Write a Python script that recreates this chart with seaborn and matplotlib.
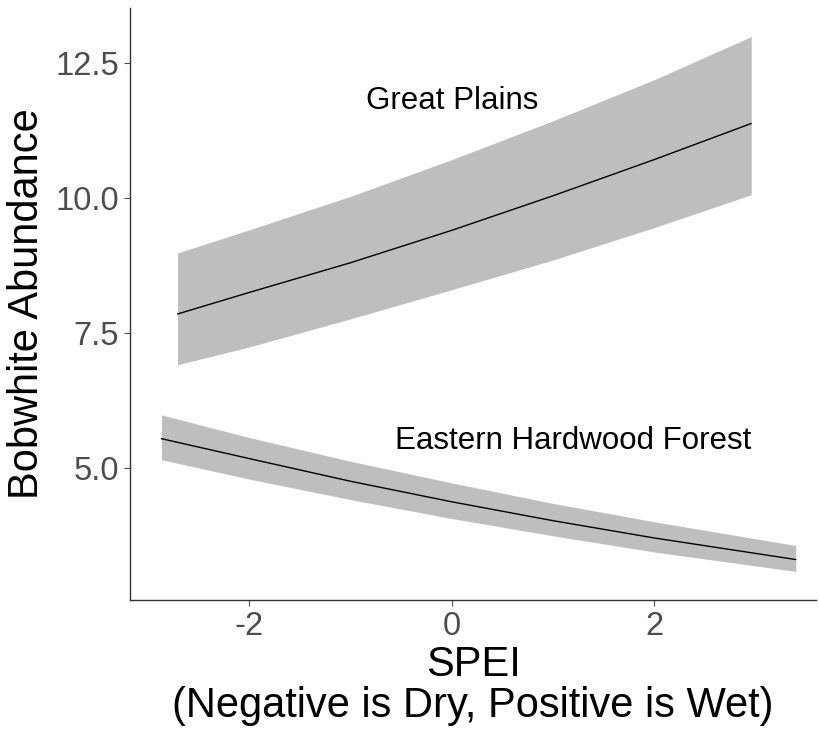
import matplotlib
matplotlib.use("Agg")
import matplotlib.pyplot as plt
import seaborn as sns
import pandas as pd

# Great Plains fitted curve and 95% band
gp_spei = [-2.71, -2.0, -1.0, 0.0, 1.0, 2.0, 2.96]
gp_fit = [7.85, 8.25, 8.80, 9.40, 10.04, 10.71, 11.38]
gp_lower = [6.91, 7.24, 7.76, 8.30, 8.85, 9.45, 10.06]
gp_upper = [8.98, 9.41, 10.03, 10.71, 11.43, 12.19, 12.99]

# Eastern Hardwood Forest fitted curve and 95% band
ehf_spei = [-2.87, -2.0, -1.0, 0.0, 1.0, 2.0, 3.40]
ehf_fit = [5.54, 5.17, 4.75, 4.37, 4.02, 3.70, 3.30]
ehf_lower = [5.15, 4.79, 4.41, 4.06, 3.74, 3.44, 3.08]
ehf_upper = [5.98, 5.56, 5.12, 4.72, 4.34, 4.00, 3.56]

x_ticks = [-2, 0, 2]
y_ticks = [5.0, 7.5, 10.0, 12.5]

RIBBON = "#BEBEBE"
TICK_GREY = "#4D4D4D"

sns.set_theme(style="ticks")
plt.rcParams['font.family'] = ['Liberation Sans', 'DejaVu Sans']

df = pd.concat([
    pd.DataFrame({'SPEI': gp_spei, 'fit': gp_fit, 'lo': gp_lower, 'hi': gp_upper,
                  'region': 'Great Plains'}),
    pd.DataFrame({'SPEI': ehf_spei, 'fit': ehf_fit, 'lo': ehf_lower, 'hi': ehf_upper,
                  'region': 'Eastern Hardwood Forest'}),
])

fig = plt.figure(figsize=(8.19, 7.34), dpi=100)
ax = fig.add_axes([130 / 819, 134 / 734, 686 / 819, 592 / 734])

# ribbons first, then lines on top
for region, sub in df.groupby('region'):
    ax.fill_between(sub['SPEI'], sub['lo'], sub['hi'], color=RIBBON, linewidth=0, zorder=1)
sns.lineplot(data=df, x='SPEI', y='fit', units='region', estimator=None,
             color='black', linewidth=1.0, ax=ax, zorder=2)

ax.text(0.0, 11.8, "Great Plains", fontsize=22.5, ha='center', va='center', color='black')
ax.text(1.2, 5.5, "Eastern Hardwood Forest", fontsize=22.5, ha='center', va='center',
        color='black')

ax.set_xlim(-3.18, 3.60)
ax.set_ylim(2.55, 13.52)
ax.set_xticks(x_ticks)
ax.set_xticklabels([str(t) for t in x_ticks])
ax.set_yticks(y_ticks)
ax.set_yticklabels([f"{t:.1f}" for t in y_ticks])
ax.tick_params(axis='both', labelsize=23.5, colors=TICK_GREY, length=4, width=0.8,
               labelcolor=TICK_GREY, pad=4)

ax.set_xlabel("SPEI\n(Negative is Dry, Positive is Wet)", fontsize=30, labelpad=2,
              linespacing=1.05, color='black')
ax.set_ylabel("Bobwhite Abundance", fontsize=30, labelpad=6, color='black')

sns.despine(ax=ax)
for side in ['left', 'bottom']:
    ax.spines[side].set_color('#333333')
    ax.spines[side].set_linewidth(1.0)

fig.savefig("out.png", dpi=100)
plt.close(fig)
